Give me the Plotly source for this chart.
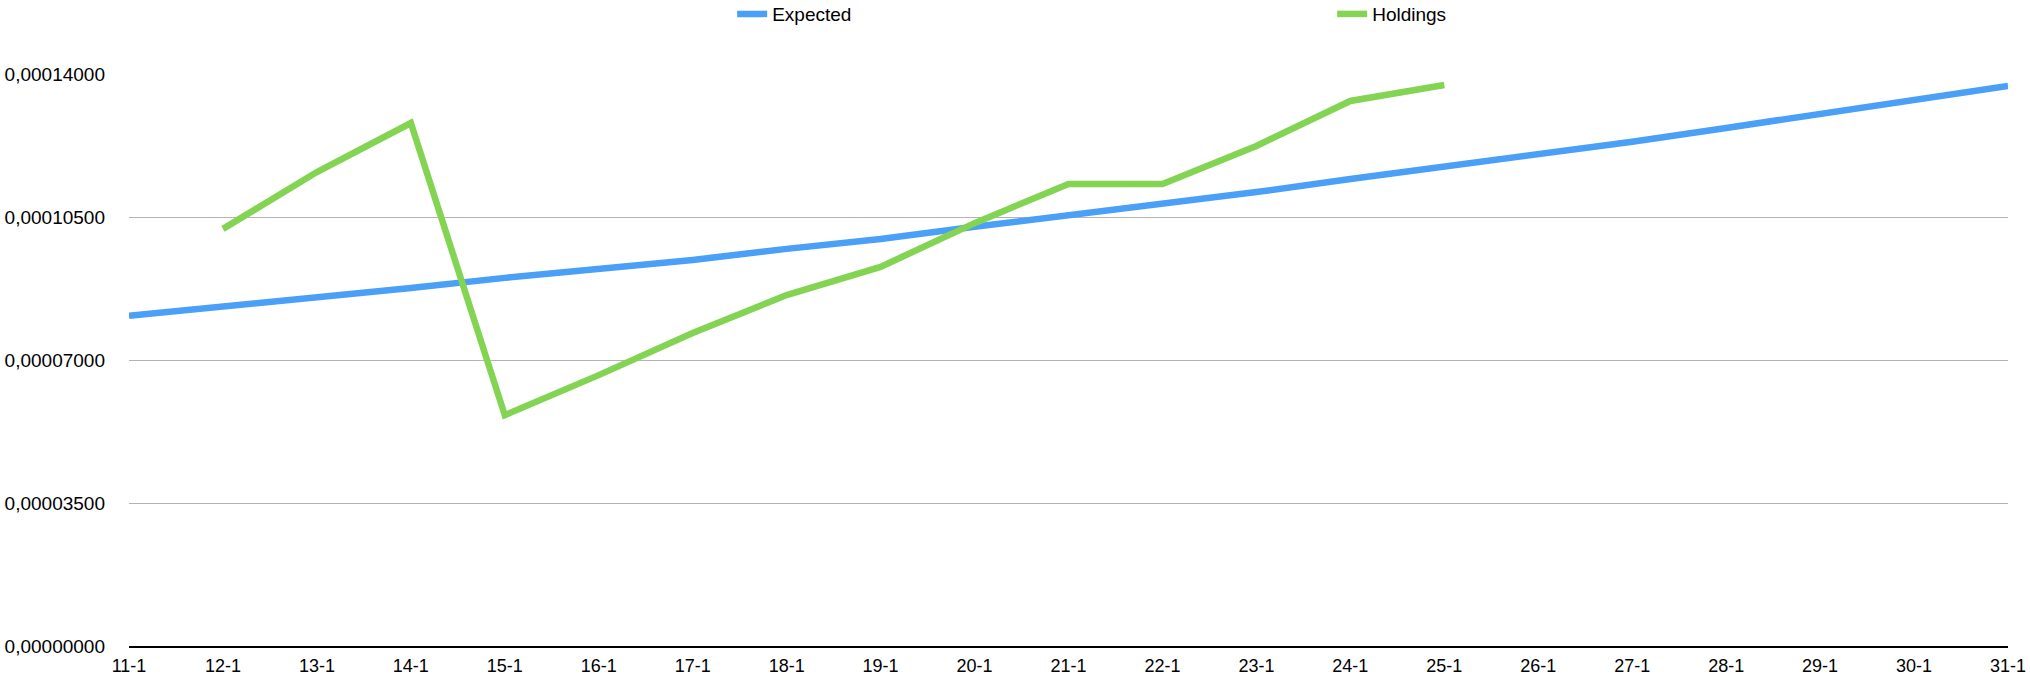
import plotly.graph_objects as go

days = [f"{d}-1" for d in range(11, 32)]

expected = [
    0.0000808, 0.0000830, 0.0000854, 0.0000876, 0.0000901, 0.0000922,
    0.0000945, 0.0000972, 0.0000996, 0.0001026, 0.0001054, 0.0001084,
    0.0001111, 0.0001143, 0.0001172, 0.0001205, 0.0001234, 0.0001268,
    0.0001302, 0.0001336, 0.0001371,
]

holdings = [
    None, 0.0001021, 0.0001160, 0.0001280, 0.0000565, 0.0000663,
    0.0000766, 0.0000859, 0.0000928, 0.0001035, 0.0001131, 0.0001131,
    0.0001224, 0.0001334, 0.0001373, None, None, None, None, None, None,
]

y_ticks = [0, 0.000035, 0.00007, 0.000105, 0.00014]

FONT = "Liberation Sans, Arial, Helvetica, sans-serif"

fig = go.Figure()

fig.add_trace(
    go.Scatter(
        x=days,
        y=expected,
        name="Expected",
        mode="lines",
        line=dict(color="#4A9FF6", width=6.5),
        cliponaxis=False,
    )
)
fig.add_trace(
    go.Scatter(
        x=days,
        y=holdings,
        name="Holdings",
        mode="lines",
        line=dict(color="#83D452", width=6.5),
        connectgaps=False,
        cliponaxis=False,
    )
)

fig.update_layout(
    width=2030,
    height=678,
    margin=dict(l=129, r=22, t=74, b=32, autoexpand=False),
    paper_bgcolor="white",
    plot_bgcolor="white",
    separators=", ",
    font=dict(family=FONT, size=19, color="black"),
    showlegend=True,
    legend=dict(
        orientation="h",
        x=0.321,
        xanchor="left",
        y=1.138,
        yref="paper",
        yanchor="top",
        itemwidth=30,
        entrywidth=555,
        entrywidthmode="pixels",
        font=dict(family=FONT, size=19, color="black"),
        bgcolor="rgba(0,0,0,0)",
    ),
)

fig.update_xaxes(
    type="category",
    range=[0, len(days) - 1],
    automargin=False,
    showgrid=False,
    showline=True,
    linecolor="black",
    linewidth=2,
    ticks="",
    ticklabelstandoff=2,
    tickfont=dict(family=FONT, size=18, color="black"),
    fixedrange=True,
)

fig.update_yaxes(
    range=[0, 0.00014],
    tickvals=y_ticks,
    tickformat=".8f",
    automargin=False,
    showgrid=True,
    gridcolor="#B4B4B4",
    gridwidth=1,
    zeroline=False,
    showline=False,
    ticks="",
    ticklabelstandoff=23,
    tickfont=dict(family=FONT, size=19, color="black"),
    fixedrange=True,
)

# page body has a default 8px margin; drop it so the figure fills the window
fig.write_html(
    "out.html",
    config={"displayModeBar": False},
    post_script="document.body.style.margin='0';",
)
